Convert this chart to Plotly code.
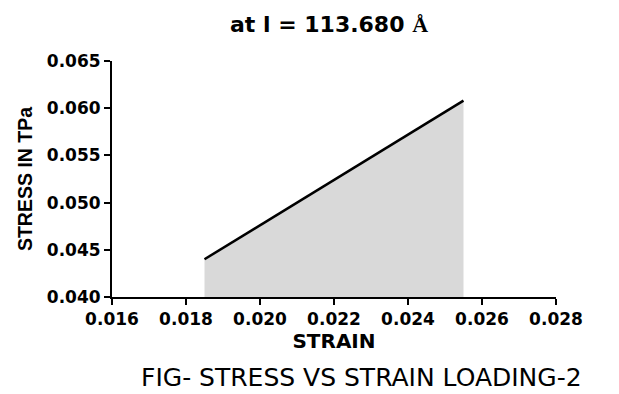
import plotly.graph_objects as go

strain = [0.0185, 0.0255]
stress = [0.0440, 0.0608]
x_ticks = [0.016, 0.018, 0.020, 0.022, 0.024, 0.026, 0.028]
y_ticks = [0.040, 0.045, 0.050, 0.055, 0.060, 0.065]

fig = go.Figure()
fig.add_trace(go.Scatter(
    x=strain, y=stress, mode="lines",
    line=dict(color="black", width=2.5),
    fill="tozeroy", fillcolor="#d9d9d9",
    showlegend=False, hoverinfo="skip",
))

tick_font = dict(family="DejaVu Sans", size=17, color="black", weight=700)

fig.update_layout(
    width=619, height=394,
    margin=dict(l=112, r=63, t=61, b=97),
    paper_bgcolor="white", plot_bgcolor="white",
    title=dict(
        text="<b>at l = 113.680 <span style=\"font-family:'Liberation Serif', 'Times New Roman', serif\">Å</span></b>",
        x=329/619, xanchor="center", y=1 - 24/394, yanchor="middle",
        font=dict(family="DejaVu Sans, sans-serif", size=22, color="black"),
    ),
    xaxis=dict(
        range=[0.016, 0.028], tickvals=x_ticks,
        ticktext=["<b>%.3f</b>" % v for v in x_ticks],
        showline=True, linecolor="black", linewidth=2,
        ticks="outside", ticklen=6, tickwidth=2, tickcolor="black",
        showgrid=False, zeroline=False, tickfont=dict(tick_font),
        title=dict(text="<b>STRAIN</b>", standoff=4,
                   font=dict(family="DejaVu Sans, sans-serif", size=20, color="black")),
    ),
    yaxis=dict(
        range=[0.040, 0.065], tickvals=y_ticks,
        ticktext=["<b>%.3f</b>" % v for v in y_ticks],
        showline=True, linecolor="black", linewidth=2,
        ticks="outside", ticklen=6, tickwidth=2, tickcolor="black",
        showgrid=False, zeroline=False, tickfont=dict(tick_font),
        title=dict(text="<b>STRESS IN TPa</b>", standoff=9,
                   font=dict(family="Liberation Sans, Arial, sans-serif", size=19.5, color="black")),
    ),
    annotations=[dict(
        text="FIG- STRESS VS STRAIN LOADING-2",
        xref="paper", yref="paper",
        x=(361 - 112) / (619 - 112 - 63), y=-(378 - 297.3) / (297.3 - 60.7),
        xanchor="center", yanchor="middle", showarrow=False,
        font=dict(family="DejaVu Sans, sans-serif", size=25, color="black"),
    )],
)

fig.write_html("out.html")
